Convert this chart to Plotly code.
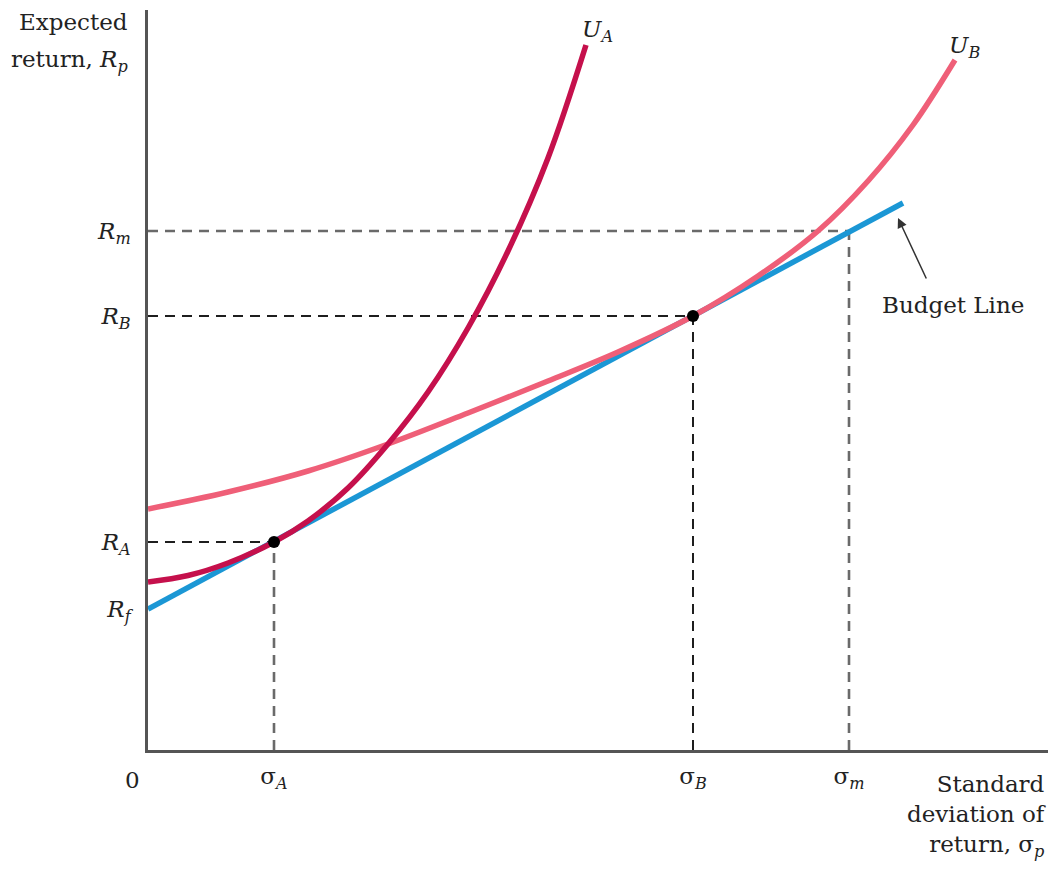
import plotly.graph_objects as go

# ---- data (units: 1 = 100 px of the reference drawing) ----
R_f = 1.41
sigma_A, R_A = 1.26, 2.08
sigma_B, R_B = 5.45, 4.34
sigma_m, R_m = 7.01, 5.19
budget_x = [0.0, 7.55]
budget_y = [1.41, 5.47]

UA_x = [0.00, 0.40, 0.80, 1.26, 1.60, 2.00, 2.40, 2.80, 3.20, 3.60, 4.00, 4.38]
UA_y = [1.68, 1.745, 1.87, 2.08, 2.29, 2.62, 3.06, 3.58, 4.22, 4.99, 5.92, 7.05]

UB_x = [0.00, 0.80, 1.60, 2.40, 3.20, 4.00, 4.70, 5.45, 6.10, 6.70, 7.20, 7.65, 8.07]
UB_y = [2.41, 2.58, 2.79, 3.06, 3.37, 3.69, 3.98, 4.34, 4.74, 5.19, 5.69, 6.25, 6.90]

x_tick_vals = [sigma_A, sigma_B, sigma_m]
x_tick_text = ["σ<sub><i>A</i></sub>", "σ<sub><i>B</i></sub>", "σ<sub><i>m</i></sub>"]
y_tick_vals = [R_f, R_A, R_B, R_m]
y_tick_text = ["<i>R</i><sub><i>f</i></sub>", "<i>R</i><sub><i>A</i></sub>",
               "<i>R</i><sub><i>B</i></sub>", "<i>R</i><sub><i>m</i></sub>"]

FONT = "DejaVu Serif"
FS = 23
DARK = "#1e1e1e"
GRAY = "#6a6a6a"

fig = go.Figure()

def dash(x, y, color, w):
    fig.add_trace(go.Scatter(x=x, y=y, mode="lines", hoverinfo="skip",
                             line=dict(color=color, width=w, dash="10px,7px")))

# guide lines
dash([0, sigma_A], [R_A, R_A], DARK, 2)
dash([sigma_A, sigma_A], [0, R_A], GRAY, 2.6)
dash([0, sigma_B], [R_B, R_B], DARK, 2)
dash([sigma_B, sigma_B], [0, R_B], DARK, 2)
dash([0, sigma_m], [R_m, R_m], GRAY, 2.6)
dash([sigma_m, sigma_m], [0, R_m], GRAY, 2.6)

# budget line
fig.add_trace(go.Scatter(x=budget_x, y=budget_y, mode="lines",
                         line=dict(color="#1b97d5", width=5.5)))
# indifference curves
fig.add_trace(go.Scatter(x=UB_x, y=UB_y, mode="lines", line_shape="spline",
                         line=dict(color="#ef5f78", width=5.5)))
fig.add_trace(go.Scatter(x=UA_x, y=UA_y, mode="lines", line_shape="spline",
                         line=dict(color="#c5104c", width=5.5)))
# tangency points
fig.add_trace(go.Scatter(x=[sigma_A, sigma_B], y=[R_A, R_B], mode="markers",
                         marker=dict(color="black", size=12)))

ann_font = dict(family=FONT, size=FS, color="#222")

# texts in the margins (paper coordinates)
paper_anns = [
    dict(x=-0.02, y=0.984, text="Expected", xanchor="right", yanchor="middle"),
    dict(x=-0.02, y=0.931, text="return, <i>R</i><sub><i>p</i></sub>",
         xanchor="right", yanchor="middle"),
    dict(x=-0.0167, y=-0.02, text="0", xanchor="center", yanchor="top"),
    dict(x=1.0, y=-0.026, text="Standard<br>deviation of<br>return, σ<sub><i>p</i></sub>",
         xanchor="right", yanchor="top", align="right"),
]
for a in paper_anns:
    a.update(showarrow=False, font=ann_font, xref="paper", yref="paper")
    fig.add_annotation(**a)

curve_anns = [
    dict(x=UA_x[-1] - 0.06, y=UA_y[-1] - 0.03, text="<i>U</i><sub><i>A</i></sub>",
         xanchor="left", yanchor="bottom"),
    dict(x=UB_x[-1] - 0.08, y=UB_y[-1] - 0.04, text="<i>U</i><sub><i>B</i></sub>",
         xanchor="left", yanchor="bottom"),
    dict(x=8.05, y=4.45, text="Budget Line", xanchor="center", yanchor="middle"),
]
for a in curve_anns:
    a.update(showarrow=False, font=ann_font, xref="x", yref="y")
    fig.add_annotation(**a)

fig.add_annotation(x=7.50, y=5.32, ax=7.79, ay=4.70, xref="x", yref="y",
                   axref="x", ayref="y", text="", showarrow=True,
                   arrowhead=2, arrowsize=1.3, arrowwidth=1.5, arrowcolor="#333")

fig.update_layout(
    width=1050, height=862,
    margin=dict(l=140, r=10, t=2, b=120),
    plot_bgcolor="white", paper_bgcolor="white",
    showlegend=False,
    font=dict(family=FONT, size=FS, color="#222"),
    xaxis=dict(range=[0, 9.0], showgrid=False, zeroline=False,
               showline=True, linecolor="#555", linewidth=2.5,
               tickvals=x_tick_vals, ticktext=x_tick_text, ticks="",
               ticklabelstandoff=4, tickfont=dict(family=FONT, size=FS)),
    yaxis=dict(range=[0, 7.40], showgrid=False, zeroline=False,
               showline=True, linecolor="#555", linewidth=2.5,
               tickvals=y_tick_vals, ticktext=y_tick_text, ticks="",
               ticklabelstandoff=10, tickfont=dict(family=FONT, size=FS)),
)

fig.write_html("out.html")
